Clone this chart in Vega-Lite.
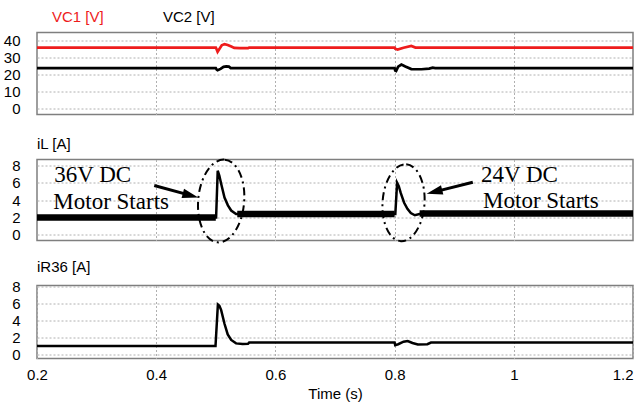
{
  "$schema": "https://vega.github.io/schema/vega-lite/v6.json",
  "padding": {"left": 2, "top": 9.5, "right": 11, "bottom": 2},
  "background": "white",
  "bounds": "flush",
  "spacing": 45,
  "config": {
    "font": "Liberation Sans",
    "view": {"stroke": "#7f7f7f", "strokeWidth": 1.5},
    "axis": {"domain": false, "ticks": false, "grid": true, "gridColor": "#b0b0b0", "gridDash": [2, 2], "gridWidth": 1, "labelFont": "Liberation Sans", "labelFontSize": 15, "labelColor": "#000000"},
    "axisY": {"labelPadding": 17, "minExtent": 34, "maxExtent": 34, "labelOverlap": false, "labelBaseline": "middle"},
    "axisX": {"labelOverlap": false},
    "title": {"anchor": "start", "frame": "group", "fontSize": 15, "fontWeight": "normal", "color": "#000000", "font": "Liberation Sans", "offset": 3.5}
  },
  "vconcat": [
    {
      "width": 596,
      "height": 82,
      "data": {"values": [
        {"t": 0.2, "v": 35.7, "s": "VC1 [V]"},
        {"t": 0.5, "v": 35.7, "s": "VC1 [V]"},
        {"t": 0.5015, "v": 34.5, "s": "VC1 [V]"},
        {"t": 0.503, "v": 33.2, "s": "VC1 [V]"},
        {"t": 0.506, "v": 34.8, "s": "VC1 [V]"},
        {"t": 0.51, "v": 37.0, "s": "VC1 [V]"},
        {"t": 0.5146, "v": 37.7, "s": "VC1 [V]"},
        {"t": 0.52, "v": 37.2, "s": "VC1 [V]"},
        {"t": 0.526, "v": 36.3, "s": "VC1 [V]"},
        {"t": 0.531, "v": 35.5, "s": "VC1 [V]"},
        {"t": 0.54, "v": 35.3, "s": "VC1 [V]"},
        {"t": 0.554, "v": 35.3, "s": "VC1 [V]"},
        {"t": 0.556, "v": 35.7, "s": "VC1 [V]"},
        {"t": 0.8, "v": 35.7, "s": "VC1 [V]"},
        {"t": 0.801, "v": 35.0, "s": "VC1 [V]"},
        {"t": 0.805, "v": 34.5, "s": "VC1 [V]"},
        {"t": 0.815, "v": 35.6, "s": "VC1 [V]"},
        {"t": 0.828, "v": 36.6, "s": "VC1 [V]"},
        {"t": 0.835, "v": 35.7, "s": "VC1 [V]"},
        {"t": 1.2, "v": 35.7, "s": "VC1 [V]"},
        {"t": 0.2, "v": 23.7, "s": "VC2 [V]"},
        {"t": 0.5, "v": 23.7, "s": "VC2 [V]"},
        {"t": 0.5015, "v": 22.8, "s": "VC2 [V]"},
        {"t": 0.503, "v": 22.4, "s": "VC2 [V]"},
        {"t": 0.508, "v": 23.2, "s": "VC2 [V]"},
        {"t": 0.513, "v": 24.4, "s": "VC2 [V]"},
        {"t": 0.5175, "v": 24.7, "s": "VC2 [V]"},
        {"t": 0.522, "v": 24.5, "s": "VC2 [V]"},
        {"t": 0.525, "v": 23.7, "s": "VC2 [V]"},
        {"t": 0.8, "v": 23.7, "s": "VC2 [V]"},
        {"t": 0.801, "v": 22.2, "s": "VC2 [V]"},
        {"t": 0.8025, "v": 22.0, "s": "VC2 [V]"},
        {"t": 0.806, "v": 24.5, "s": "VC2 [V]"},
        {"t": 0.8114, "v": 25.7, "s": "VC2 [V]"},
        {"t": 0.818, "v": 24.6, "s": "VC2 [V]"},
        {"t": 0.828, "v": 23.1, "s": "VC2 [V]"},
        {"t": 0.845, "v": 23.0, "s": "VC2 [V]"},
        {"t": 0.858, "v": 23.4, "s": "VC2 [V]"},
        {"t": 0.864, "v": 23.9, "s": "VC2 [V]"},
        {"t": 0.868, "v": 23.7, "s": "VC2 [V]"},
        {"t": 1.2, "v": 23.7, "s": "VC2 [V]"}
      ]},
      "mark": {"type": "line", "strokeWidth": 2.7},
      "encoding": {
        "x": {"field": "t", "type": "quantitative", "scale": {"domain": [0.2, 1.2], "nice": false, "zero": false}, "axis": {"labels": false, "title": null, "values": [0.4, 0.6, 0.8, 1]}},
        "y": {"field": "v", "type": "quantitative", "scale": {"domain": [-3.5, 44.5], "nice": false, "zero": false}, "axis": {"values": [0, 10, 20, 30, 40], "title": null}},
        "color": {
          "field": "s", "type": "nominal",
          "scale": {"domain": ["VC1 [V]", "VC2 [V]"], "range": ["#ee1c1c", "#000000"]},
          "legend": {
            "title": null, "orient": "top", "direction": "horizontal",
            "symbolSize": 0, "symbolStrokeWidth": 0, "symbolOpacity": 0,
            "labelFontSize": 15, "labelFont": "Liberation Sans", "labelOffset": 0,
            "columnPadding": 44, "offset": 6,
            "encode": {"labels": {"update": {"fill": {"signal": "datum.value === 'VC1 [V]' ? '#ee1c1c' : '#000000'"}}}}
          }
        }
      }
    },
    {
      "width": 596,
      "height": 81,
      "title": {"text": "iL [A]"},
      "encoding": {
        "x": {"field": "t", "type": "quantitative", "scale": {"domain": [0.2, 1.2], "nice": false, "zero": false}, "axis": {"labels": false, "title": null, "values": [0.4, 0.6, 0.8, 1]}},
        "y": {"field": "v", "type": "quantitative", "scale": {"domain": [-0.66, 8.69], "nice": false, "zero": false}, "axis": {"values": [0, 2, 4, 6, 8], "title": null}}
      },
      "layer": [
        {
          "data": {"values": [
            {"t": 0.2, "v": 2.0},
            {"t": 0.5005, "v": 2.0},
            {"t": 0.5032, "v": 7.4},
            {"t": 0.506, "v": 6.8},
            {"t": 0.509, "v": 5.9},
            {"t": 0.5146, "v": 4.3},
            {"t": 0.5203, "v": 3.4},
            {"t": 0.5258, "v": 2.8},
            {"t": 0.534, "v": 2.4},
            {"t": 0.8012, "v": 2.4},
            {"t": 0.8042, "v": 6.0},
            {"t": 0.807, "v": 5.6},
            {"t": 0.8104, "v": 4.8},
            {"t": 0.816, "v": 3.7},
            {"t": 0.8215, "v": 3.0},
            {"t": 0.8272, "v": 2.5},
            {"t": 0.834, "v": 2.25},
            {"t": 0.845, "v": 2.45},
            {"t": 1.2, "v": 2.45}
          ]},
          "mark": {"type": "line", "color": "#000000", "strokeWidth": 2.5}
        },
        {
          "data": {"values": [
            {"t": 0.2, "v": 2.0, "seg": "a"},
            {"t": 0.5, "v": 2.0, "seg": "a"},
            {"t": 0.536, "v": 2.4, "seg": "b"},
            {"t": 0.8, "v": 2.4, "seg": "b"},
            {"t": 0.842, "v": 2.45, "seg": "c"},
            {"t": 1.2, "v": 2.45, "seg": "c"}
          ]},
          "mark": {"type": "line", "color": "#000000", "strokeWidth": 6.5, "strokeCap": "butt"},
          "encoding": {"detail": {"field": "seg", "type": "nominal"}}
        },
        {
          "data": {"values": [{"t": 0.509, "v": 3.9}]},
          "mark": {"type": "point", "shape": "M 0 -1 A 0.554 1 0 1 1 0 1 A 0.554 1 0 1 1 0 -1 Z", "filled": false, "stroke": "#000000", "strokeWidth": 2, "strokeDash": [8, 4, 2, 4], "size": 6889, "angle": 5, "opacity": 1}
        },
        {
          "data": {"values": [{"t": 0.815, "v": 3.7}]},
          "mark": {"type": "point", "shape": "M 0 -1 A 0.545 1 0 1 1 0 1 A 0.545 1 0 1 1 0 -1 Z", "filled": false, "stroke": "#000000", "strokeWidth": 2, "strokeDash": [8, 4, 2, 4], "size": 5929, "angle": 4, "opacity": 1}
        },
        {
          "data": {"values": [
            {"t": 0.3967, "v": 5.69, "t2": 0.4576, "v2": 4.55},
            {"t": 0.9312, "v": 6.07, "t2": 0.8668, "v2": 4.95}
          ]},
          "mark": {"type": "rule", "color": "#000000", "strokeWidth": 3},
          "encoding": {"x2": {"field": "t2"}, "y2": {"field": "v2"}}
        },
        {
          "data": {"values": [{"t": 0.4576, "v": 4.55}]},
          "mark": {"type": "point", "shape": "M 1 0 L -1 -0.6 L -1 0.6 Z", "filled": true, "color": "#000000", "size": 256, "angle": 15, "opacity": 1}
        },
        {
          "data": {"values": [{"t": 0.8668, "v": 4.95}]},
          "mark": {"type": "point", "shape": "M 1 0 L -1 -0.6 L -1 0.6 Z", "filled": true, "color": "#000000", "size": 256, "angle": 166, "opacity": 1}
        },
        {
          "data": {"values": [
            {"t": 0.229, "v": 6.07, "label": "36V DC"},
            {"t": 0.2274, "v": 2.92, "label": "Motor Starts"},
            {"t": 0.945, "v": 6.07, "label": "24V DC"},
            {"t": 0.9484, "v": 3.04, "label": "Motor Starts"}
          ]},
          "mark": {"type": "text", "font": "Liberation Serif", "fontSize": 23, "align": "left", "baseline": "alphabetic", "color": "#000000"},
          "encoding": {"text": {"field": "label"}}
        }
      ]
    },
    {
      "width": 596,
      "height": 73,
      "title": {"text": "iR36 [A]", "offset": 4.5},
      "data": {"values": [
        {"t": 0.2, "v": 1.0},
        {"t": 0.4995, "v": 1.0},
        {"t": 0.5035, "v": 5.85},
        {"t": 0.506, "v": 5.7},
        {"t": 0.509, "v": 5.2},
        {"t": 0.5146, "v": 3.6},
        {"t": 0.52, "v": 2.35},
        {"t": 0.5258, "v": 1.7},
        {"t": 0.534, "v": 1.3},
        {"t": 0.545, "v": 1.22},
        {"t": 0.554, "v": 1.25},
        {"t": 0.556, "v": 1.4},
        {"t": 0.8, "v": 1.4},
        {"t": 0.801, "v": 1.1},
        {"t": 0.806, "v": 1.2},
        {"t": 0.815, "v": 1.5},
        {"t": 0.822, "v": 1.58},
        {"t": 0.83, "v": 1.35},
        {"t": 0.839, "v": 1.18},
        {"t": 0.855, "v": 1.2},
        {"t": 0.861, "v": 1.4},
        {"t": 1.2, "v": 1.4}
      ]},
      "mark": {"type": "line", "color": "#000000", "strokeWidth": 2.5},
      "encoding": {
        "x": {
          "field": "t", "type": "quantitative",
          "scale": {"domain": [0.2, 1.2], "nice": false, "zero": false},
          "axis": {
            "values": [0.2, 0.4, 0.6, 0.8, 1, 1.2], "format": "~g",
            "labelPadding": 9, "labelFlush": false,
            "labelAlign": {"expr": "datum.value > 1.19 ? 'right' : 'center'"},
            "title": "Time (s)", "titleFontSize": 15, "titleFontWeight": "normal", "titleFont": "Liberation Sans", "titlePadding": 4, "titleColor": "#000000"
          }
        },
        "y": {"field": "v", "type": "quantitative", "scale": {"domain": [-0.47, 8.08], "nice": false, "zero": false}, "axis": {"values": [0, 2, 4, 6, 8], "title": null}}
      }
    }
  ]
}
